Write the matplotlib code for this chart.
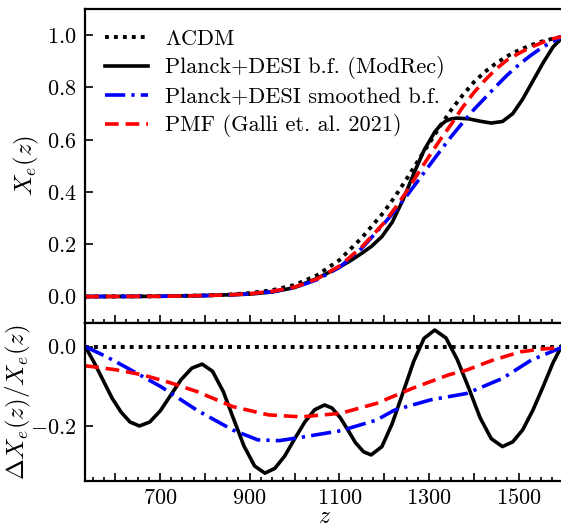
import numpy as np
import matplotlib
matplotlib.use("Agg")
import matplotlib.pyplot as plt
from matplotlib.ticker import MultipleLocator, FuncFormatter

# ---------------- data ----------------
z_top = [533, 600, 700, 800, 850, 900, 950, 1000, 1050, 1100, 1150, 1200, 1225,
         1250, 1275, 1300, 1325, 1350, 1375, 1400, 1425, 1450, 1475, 1500, 1525,
         1550, 1575, 1600]
xe_lcdm = [0.0008, 0.0012, 0.002, 0.005, 0.008, 0.014, 0.025, 0.045, 0.082, 0.140,
           0.225, 0.325, 0.385, 0.450, 0.518, 0.585, 0.652, 0.715, 0.770, 0.820,
           0.860, 0.893, 0.920, 0.942, 0.960, 0.975, 0.986, 0.995]
xe_smooth = [0.0008, 0.0011, 0.0018, 0.0042, 0.0066, 0.011, 0.019, 0.035, 0.065, 0.112,
             0.185, 0.280, 0.330, 0.385, 0.442, 0.500, 0.557, 0.613, 0.665, 0.715,
             0.760, 0.805, 0.848, 0.886, 0.920, 0.950, 0.975, 0.995]
xe_pmf = [0.00075, 0.0011, 0.0018, 0.0044, 0.0068, 0.0116, 0.0207, 0.037, 0.068, 0.117,
          0.190, 0.283, 0.340, 0.402, 0.470, 0.536, 0.600, 0.660, 0.724, 0.780,
          0.828, 0.871, 0.906, 0.930, 0.952, 0.970, 0.986, 0.995]

z_modrec = [533, 600, 700, 800, 850, 900, 950, 1000, 1050, 1100, 1125, 1150, 1172,
            1195, 1218, 1242, 1266, 1289, 1313, 1326, 1338, 1350, 1363, 1389, 1414,
            1439, 1464, 1487, 1509, 1532, 1555, 1577, 1600]
xe_modrec = [0.0008, 0.0010, 0.0017, 0.0048, 0.0072, 0.010, 0.018, 0.035, 0.070, 0.113,
             0.138, 0.166, 0.193, 0.230, 0.285, 0.370, 0.470, 0.560, 0.630, 0.657,
             0.672, 0.680, 0.683, 0.680, 0.671, 0.664, 0.670, 0.700, 0.755, 0.825,
             0.895, 0.955, 0.995]

z_lcdm_d = [533, 1600]
d_lcdm = [0.0, 0.0]

z_modrec_d = [533, 553, 573, 593, 613, 633, 654, 677, 701, 724, 747, 771, 794, 817,
              841, 864, 887, 911, 934, 956, 978, 1000, 1023, 1045, 1067, 1084, 1102,
              1119, 1136, 1154, 1171, 1195, 1218, 1242, 1266, 1289, 1313, 1338, 1363,
              1389, 1414, 1439, 1464, 1487, 1509, 1532, 1555, 1577, 1600]
d_modrec = [0.0, -0.040, -0.085, -0.130, -0.165, -0.190, -0.200, -0.190, -0.161,
            -0.122, -0.083, -0.054, -0.044, -0.062, -0.113, -0.182, -0.250, -0.301,
            -0.319, -0.307, -0.276, -0.233, -0.190, -0.159, -0.147, -0.155, -0.179,
            -0.210, -0.242, -0.265, -0.273, -0.252, -0.194, -0.116, -0.037, 0.021,
            0.042, 0.022, -0.032, -0.105, -0.179, -0.232, -0.252, -0.240, -0.210,
            -0.160, -0.100, -0.040, 0.010]

z_smooth_d = [533, 580, 621, 702, 782, 862, 918, 966, 1023, 1103, 1183, 1223, 1304,
              1384, 1464, 1528, 1600]
d_smooth = [0.0, -0.025, -0.050, -0.101, -0.160, -0.210, -0.235, -0.237, -0.227,
            -0.212, -0.185, -0.160, -0.134, -0.118, -0.080, -0.034, 0.0]

z_pmf_d = [533, 600, 661, 720, 782, 862, 942, 1015, 1103, 1183, 1263, 1344, 1384,
           1440, 1504, 1550, 1600]
d_pmf = [-0.048, -0.058, -0.071, -0.090, -0.113, -0.151, -0.172, -0.177, -0.168,
         -0.143, -0.105, -0.071, -0.059, -0.035, -0.013, -0.006, -0.002]

labels = [r"$\Lambda$CDM", "Planck+DESI b.f. (ModRec)",
          "Planck+DESI smoothed b.f.", "PMF (Galli et. al. 2021)"]

# ---------------- style ----------------
plt.rcParams.update({
    "font.family": "serif",
    "font.serif": ["cmr10"],
    "mathtext.fontset": "cm",
    "axes.unicode_minus": False,
    "font.size": 16,
    "axes.linewidth": 1.6,
})

lw = 2.6
styles = [
    dict(color="black", linestyle=(0, (1.0, 1.3)), lw=lw + 0.2),
    dict(color="black", linestyle="-", lw=lw),
    dict(color="#0000ff", linestyle=(0, (5.6, 1.7, 0.9, 1.7)), lw=lw),
    dict(color="#ff0000", linestyle=(0, (3.8, 1.9)), lw=lw),
]

fig = plt.figure(figsize=(5.61, 5.27), dpi=100)
left = 85 / 561
width = 478.4 / 561
ax1 = fig.add_axes([left, 0.38729, width, 0.59563])
ax2 = fig.add_axes([left, 0.08634, width, 0.30095], sharex=ax1)

top_z = [z_top, z_modrec, z_top, z_top]
for zz, y, st, lab in zip(top_z, [xe_lcdm, xe_modrec, xe_smooth, xe_pmf], styles, labels):
    ax1.plot(zz, y, label=lab, **st)

for zz, y, st in zip([z_lcdm_d, z_modrec_d, z_smooth_d, z_pmf_d],
                     [d_lcdm, d_modrec, d_smooth, d_pmf], styles):
    ax2.plot(zz, y, **st)

ax1.set_xlim(532.5, 1600)
ax1.set_ylim(-0.1, 1.1)
ax2.set_ylim(-0.34, 0.06)

ax1.yaxis.set_major_locator(MultipleLocator(0.2))
ax2.yaxis.set_major_locator(MultipleLocator(0.2))
fmt_y = FuncFormatter(lambda v, p: r"$%.1f$" % (0.0 if abs(v) < 1e-9 else v))
ax1.yaxis.set_major_formatter(fmt_y)
ax2.yaxis.set_major_formatter(fmt_y)

ax2.xaxis.set_major_locator(MultipleLocator(100))
ax2.xaxis.set_minor_locator(MultipleLocator(25))
ax2.xaxis.set_major_formatter(FuncFormatter(
    lambda v, p: (r"$%d$" % int(round(v))) if int(round(v)) % 200 == 100 else ""))

for ax in (ax1, ax2):
    ax.tick_params(axis="both", which="major", direction="in", length=6, width=1.2,
                   top=False, right=False, pad=6)
    ax.tick_params(axis="x", which="minor", direction="in", length=3, width=1.2,
                   top=False)
ax2.tick_params(axis="x", which="major", pad=5)
plt.setp(ax1.get_xticklabels(), visible=False)

ax1.set_ylabel(r"$X_e(z)$", fontsize=18)
ax2.set_ylabel(r"$\Delta X_e(z)/X_e(z)$", fontsize=18)
ax2.set_xlabel(r"$z$", fontsize=17)
ax1.yaxis.set_label_coords(-0.092, 0.5)
ax2.yaxis.set_label_coords(-0.108, 0.5)
ax2.xaxis.set_label_coords(0.5, -0.155)

ax1.legend(loc="upper left", frameon=False, handlelength=1.95, handletextpad=0.75,
           labelspacing=0.35, borderaxespad=0.5, fontsize=16)

fig.savefig("out.png", dpi=100)
